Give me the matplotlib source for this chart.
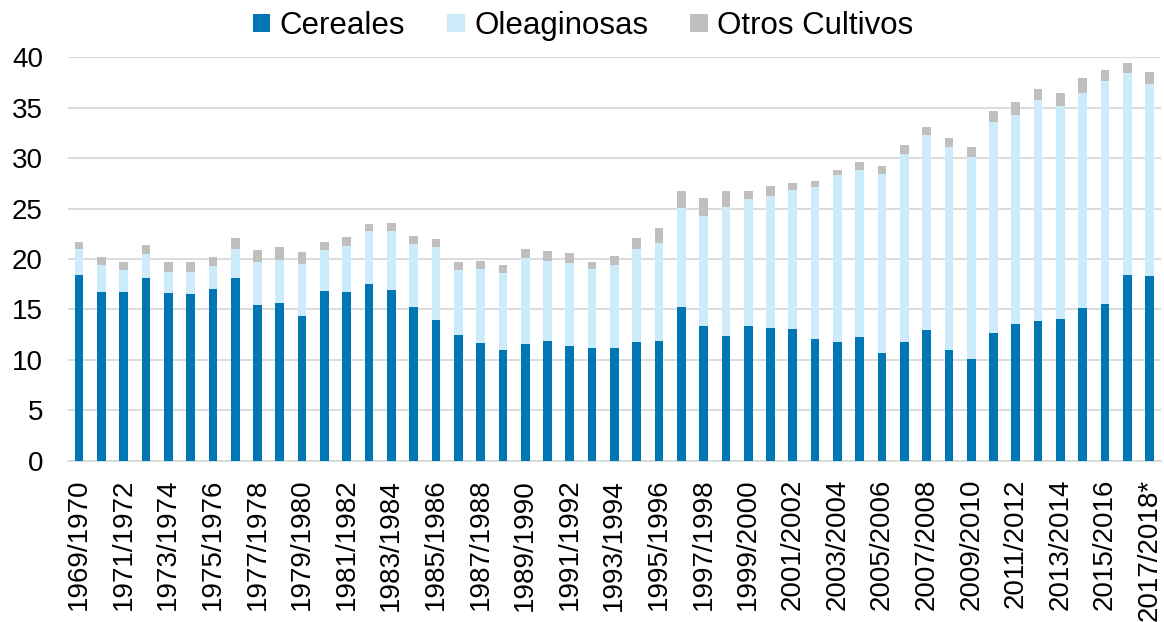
import matplotlib.pyplot as plt
import numpy as np
from matplotlib.patches import Patch

# Superficie sembrada por campaña (millones de ha)
first_years = list(range(1969, 2018))
seasons = [f"{y}/{y + 1}" for y in first_years]
seasons[-1] = seasons[-1] + "*"

cereales = [
    18.4, 16.7, 16.7, 18.1, 16.6, 16.5, 17.0, 18.1, 15.4, 15.6,
    14.3, 16.8, 16.7, 17.5, 16.9, 15.2, 14.0, 12.5, 11.7, 11.0,
    11.6, 11.9, 11.4, 11.2, 11.2, 11.8, 11.9, 15.2, 13.4, 12.4,
    13.4, 13.2, 13.1, 12.1, 11.8, 12.3, 10.7, 11.8, 13.0, 11.0,
    10.1, 12.7, 13.6, 13.9, 14.1, 15.1, 15.5, 18.4, 18.3,
]
oleaginosas = [
    2.6, 2.7, 2.2, 2.4, 2.1, 2.2, 2.3, 2.9, 4.3, 4.3,
    5.2, 4.1, 4.6, 5.3, 5.9, 6.3, 7.2, 6.4, 7.3, 7.6,
    8.5, 7.9, 8.2, 7.8, 8.2, 9.2, 9.7, 9.9, 10.9, 12.8,
    12.5, 13.0, 13.7, 15.0, 16.5, 16.5, 17.7, 18.6, 19.3, 20.1,
    20.0, 20.9, 20.7, 21.9, 21.1, 21.4, 22.1, 20.0, 19.1,
]
otros = [
    0.7, 0.8, 0.8, 0.9, 1.0, 1.0, 0.9, 1.1, 1.2, 1.3,
    1.2, 0.8, 0.9, 0.7, 0.8, 0.8, 0.8, 0.8, 0.8, 0.8,
    0.9, 1.0, 1.0, 0.7, 0.9, 1.1, 1.5, 1.6, 1.7, 1.5,
    0.8, 1.0, 0.7, 0.6, 0.5, 0.8, 0.8, 0.9, 0.8, 0.9,
    1.0, 1.1, 1.3, 1.1, 1.3, 1.4, 1.1, 1.0, 1.1,
]

series_names = ["Cereales", "Oleaginosas", "Otros Cultivos"]
colors = ["#0077B3", "#CCECFC", "#BFBFBF"]
grid_color = "#D9D9D9"

plt.rcParams["font.family"] = ["Liberation Sans", "DejaVu Sans"]

fig = plt.figure(figsize=(11.64, 6.22), dpi=100)
ax = fig.add_axes([0.0584, 0.2593, 0.9388, 0.6486])

x = np.arange(len(seasons))
width = 0.39
bottom = np.zeros(len(seasons))
for values, color in zip([cereales, oleaginosas, otros], colors):
    ax.bar(x, values, width, bottom=bottom, color=color, linewidth=0, zorder=3)
    bottom += np.array(values)

ax.set_xlim(-0.5, len(seasons) - 0.5)
ax.set_ylim(0, 40)
ax.set_yticks(range(0, 41, 5))
ax.yaxis.grid(True, color=grid_color, linewidth=1.3, zorder=0)
ax.set_axisbelow(True)

ax.set_xticks(x[::2])
ax.set_xticklabels(seasons[::2], rotation=90, ha="center", va="top")

for side in ["top", "right", "left"]:
    ax.spines[side].set_visible(False)
ax.spines["bottom"].set_color(grid_color)
ax.spines["bottom"].set_linewidth(1.3)

ax.tick_params(axis="y", length=0, pad=18, labelsize=20)
ax.tick_params(axis="x", length=0, pad=13, labelsize=20)

handles = [Patch(facecolor=c, edgecolor="none") for c in colors]
fig.legend(
    handles, series_names,
    loc="center", bbox_to_anchor=(0.501, 0.958), ncol=3, frameon=False,
    fontsize=22.5, handlelength=0.55, handleheight=0.55,
    handletextpad=0.3, columnspacing=1.35, borderaxespad=0,
)

fig.savefig("out.png", dpi=100)
